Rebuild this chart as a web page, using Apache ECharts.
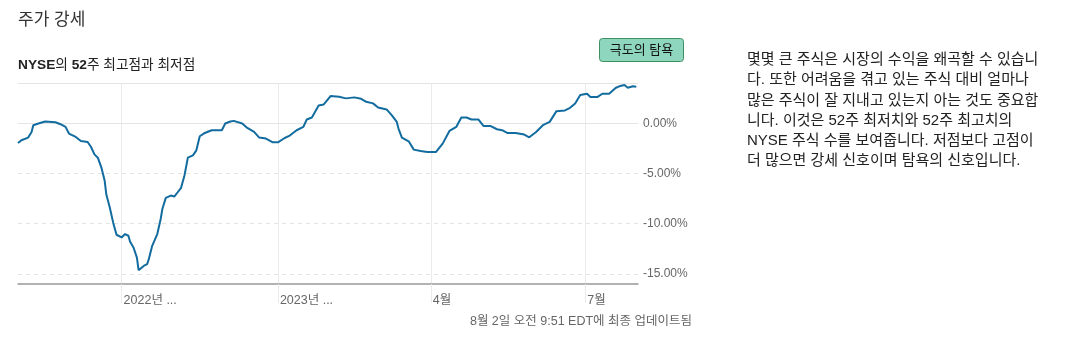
<!DOCTYPE html>
<html><head><meta charset="utf-8">
<script src="https://cdn.jsdelivr.net/npm/echarts@6/dist/echarts.min.js"></script>
<style>html,body{margin:0;padding:0;background:#fff}#c{width:1067px;height:353px}</style>
</head><body><div id="c"></div>
<script>
// ---- data ----
const pointDates = [
'2022-08-01','2022-08-03','2022-08-07','2022-08-09','2022-08-10','2022-08-13','2022-08-17','2022-08-23','2022-08-26','2022-08-29',
'2022-08-31','2022-09-04','2022-09-07','2022-09-11','2022-09-13','2022-09-15','2022-09-17','2022-09-19','2022-09-21','2022-09-22',
'2022-09-24','2022-09-26','2022-09-28','2022-10-01','2022-10-03','2022-10-05','2022-10-06','2022-10-08','2022-10-10','2022-10-11',
'2022-10-14','2022-10-16','2022-10-17','2022-10-19','2022-10-22','2022-10-24','2022-10-25','2022-10-27','2022-10-30','2022-11-01',
'2022-11-03','2022-11-05','2022-11-07','2022-11-09','2022-11-12','2022-11-14','2022-11-16','2022-11-19','2022-11-23','2022-11-29',
'2022-12-01','2022-12-04','2022-12-06','2022-12-11','2022-12-14','2022-12-18','2022-12-21','2022-12-25','2022-12-29','2023-01-01',
'2023-01-05','2023-01-08','2023-01-12','2023-01-16','2023-01-18','2023-01-21','2023-01-25','2023-01-28','2023-02-01','2023-02-06',
'2023-02-10','2023-02-15','2023-02-19','2023-02-22','2023-02-26','2023-03-01','2023-03-06','2023-03-09','2023-03-12','2023-03-13',
'2023-03-15','2023-03-19','2023-03-22','2023-03-26','2023-03-30','2023-04-04','2023-04-08','2023-04-12','2023-04-16','2023-04-19',
'2023-04-22','2023-04-25','2023-04-29','2023-05-02','2023-05-06','2023-05-10','2023-05-13','2023-05-16','2023-05-21','2023-05-26',
'2023-05-29','2023-06-02','2023-06-06','2023-06-10','2023-06-14','2023-06-19','2023-06-22','2023-06-25','2023-06-28','2023-07-02',
'2023-07-04','2023-07-08','2023-07-11','2023-07-15','2023-07-19','2023-07-21','2023-07-24','2023-07-26','2023-07-29','2023-07-31'
];
const pointValues = [
-1.97,-1.70,-1.43,-0.87,-0.20,-0.03,0.17,0.10,-0.10,-0.37,
-1.03,-1.37,-1.77,-1.87,-2.37,-3.10,-3.43,-4.37,-5.70,-7.10,
-8.37,-9.87,-11.10,-11.37,-11.03,-11.20,-11.80,-12.37,-13.37,-14.63,
-14.20,-14.03,-13.53,-12.20,-11.03,-9.53,-8.53,-7.43,-7.20,-7.30,
-6.87,-6.43,-5.20,-3.43,-3.20,-2.70,-1.30,-0.97,-0.70,-0.70,
-0.03,0.17,0.23,-0.03,-0.47,-0.87,-1.43,-1.53,-1.90,-1.90,
-1.47,-1.23,-0.70,-0.37,0.37,0.57,1.77,1.87,2.70,2.63,
2.47,2.57,2.43,2.13,1.97,1.57,1.37,0.80,0.13,-0.53,
-1.43,-1.80,-2.63,-2.77,-2.87,-2.87,-2.03,-0.77,-0.37,0.57,
0.57,0.37,0.37,-0.27,-0.27,-0.60,-0.70,-0.97,-0.97,-1.13,
-1.40,-0.87,-0.20,0.13,1.20,1.27,1.53,1.97,2.80,2.93,
2.60,2.60,2.93,2.93,3.53,3.67,3.80,3.53,3.67,3.63
];
const tickDates = ['2022-10-01','2023-01-01','2023-04-01','2023-07-01'];
const tickLabels = ['2022년 ...','2023년 ...','4월','7월'];
const yLabelValues = [0,-5,-10,-15];
const solidGridValues = [4,0];
const dashedGridValues = [-5,-10,-15];
const axisStart = '2022-08-01';
const axisEnd = '2023-08-01';
const paragraphLines = [
'몇몇 큰 주식은 시장의 수익을 왜곡할 수 있습니',
'다. 또한 어려움을 겪고 있는 주식 대비 얼마나',
'많은 주식이 잘 지내고 있는지 아는 것도 중요합',
'니다. 이것은 52주 최저치와 52주 최고치의',
'NYSE 주식 수를 보여줍니다. 저점보다 고점이',
'더 많으면 강세 신호이며 탐욕의 신호입니다.'
];

// ---- category axis: every calendar day ----
function dayList(a, b) {
  const out = [];
  let t = Date.UTC(+a.slice(0,4), +a.slice(5,7)-1, +a.slice(8,10));
  const end = Date.UTC(+b.slice(0,4), +b.slice(5,7)-1, +b.slice(8,10));
  while (t <= end) { out.push(new Date(t).toISOString().slice(0,10)); t += 86400000; }
  return out;
}
const categories = dayList(axisStart, axisEnd);
const isTick = (idx, val) => tickDates.indexOf(val) >= 0;

const FONT = "'Liberation Sans', 'Noto Sans CJK KR', sans-serif";
const chart = echarts.init(document.getElementById('c'), null, {renderer: 'canvas'});
chart.setOption({
  animation: false,
  backgroundColor: '#fff',
  grid: {left: 18, right: 429, top: 83, bottom: 69, containLabel: false},
  xAxis: {
    type: 'category', data: categories, boundaryGap: false,
    axisLine: {show: true, onZero: false, lineStyle: {color: '#999', width: 1.5}},
    axisTick: {show: true, interval: isTick, length: 19, lineStyle: {color: '#ebebeb', width: 1}},
    splitLine: {show: true, interval: isTick, lineStyle: {color: '#ebebeb', width: 1}},
    axisLabel: {
      show: true, interval: isTick, align: 'left', verticalAlign: 'top', margin: 10,
      padding: [0,0,0,2], color: '#666', fontSize: 12.5, fontFamily: FONT,
      formatter: v => { const i = tickDates.indexOf(v); return i >= 0 ? tickLabels[i] : ''; }
    }
  },
  yAxis: {
    type: 'value', position: 'right', min: -16, max: 4, interval: 1,
    axisLine: {show: false}, axisTick: {show: false}, splitLine: {show: false},
    axisLabel: {
      margin: 5, color: '#666', fontSize: 12, fontFamily: FONT, align: 'left',
      formatter: v => yLabelValues.indexOf(v) >= 0 ? v.toFixed(2) + '%' : ''
    }
  },
  series: [{
    type: 'line', z: 3, showSymbol: false, symbol: 'none', silent: true,
    data: pointDates.map((d, i) => [d, pointValues[i]]),
    lineStyle: {color: '#136c9f', width: 2},
    markLine: {
      silent: true, symbol: ['none','none'], z: 1, animation: false,
      label: {show: false},
      data: solidGridValues.map(v => ({yAxis: v, lineStyle: {color: '#e4e4e4', width: 1, type: 'solid'}}))
        .concat(dashedGridValues.map(v => ({yAxis: v, lineStyle: {color: '#e4e4e4', width: 1, type: [4,4]}})))
    }
  }],
  graphic: [
    {type: 'text', left: 18, top: 12, style: {text: '주가 강세', fill: '#333', font: "17px " + FONT}},
    {type: 'text', left: 18, top: 58, style: {
      text: '{b|NYSE}{n|의 }{b|52}{n|주 최고점과 최저점}',
      rich: {
        b: {fontSize: 13.7, fontWeight: 'bold', fill: '#222', fontFamily: FONT},
        n: {fontSize: 13.7, fontWeight: 'normal', fill: '#222', fontFamily: FONT}
      }
    }},
    {type: 'rect', shape: {x: 599.5, y: 38.5, width: 84, height: 23, r: 3},
      style: {fill: '#8fd6be', stroke: '#3f8f63', lineWidth: 1}},
    {type: 'text', x: 641.5, y: 50, style: {text: '극도의 탐욕', fill: '#111', font: "13px " + FONT, align: 'center', verticalAlign: 'middle'}},
    {type: 'text', x: 747, y: 50, style: {
      text: paragraphLines.join('\n'), fill: '#222', font: "15px " + FONT, lineHeight: 20.2,
      align: 'left', verticalAlign: 'top'
    }},
    {type: 'text', x: 692, y: 322, style: {
      text: '8월 2일 오전 9:51 EDT에 최종 업데이트됨', fill: '#666', font: "12.5px " + FONT,
      align: 'right', verticalAlign: 'middle'
    }}
  ]
});
</script></body></html>
